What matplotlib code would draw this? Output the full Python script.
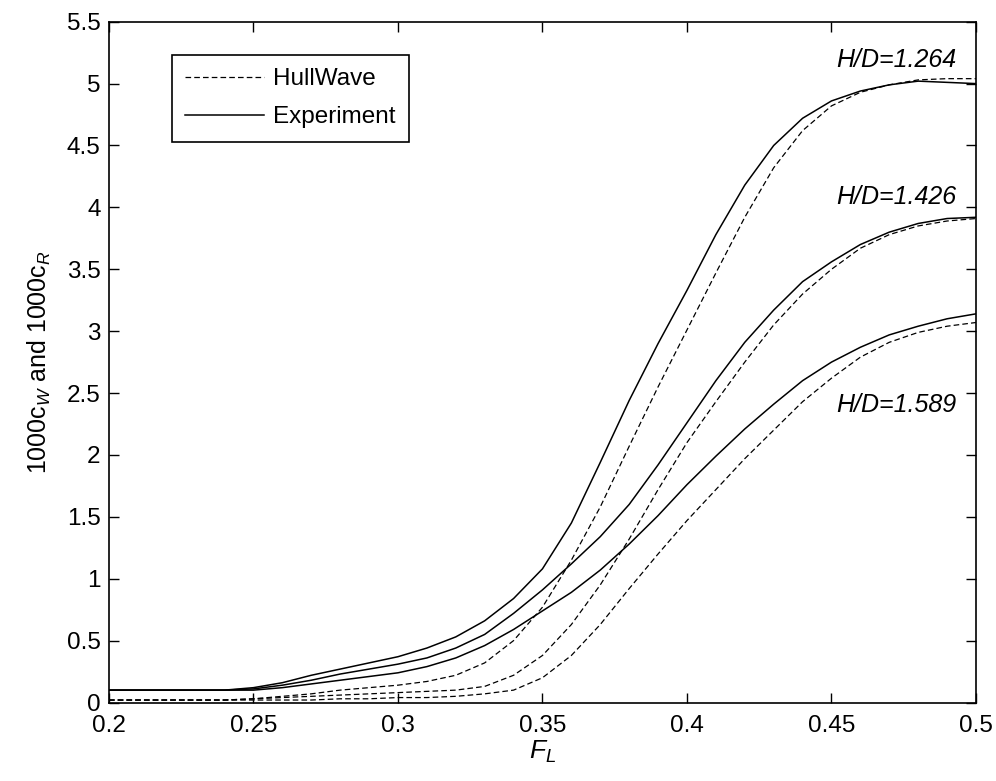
import numpy as np
import matplotlib
matplotlib.use("Agg")
import matplotlib.pyplot as plt
from matplotlib.ticker import FormatStrFormatter, MultipleLocator

plt.rcParams['font.family'] = ['Liberation Sans', 'DejaVu Sans']
plt.rcParams['mathtext.fontset'] = 'custom'
plt.rcParams['mathtext.rm'] = 'Liberation Sans'
plt.rcParams['mathtext.it'] = 'Liberation Sans:italic'

# Froude number grid
F_L = np.round(np.arange(0.20, 0.5001, 0.01), 2)

# Experiment (solid lines)
exp_1264 = [0.10, 0.10, 0.10, 0.10, 0.10, 0.12, 0.16, 0.22, 0.27, 0.32,
            0.37, 0.44, 0.53, 0.66, 0.84, 1.08, 1.45, 1.94, 2.44, 2.90,
            3.33, 3.78, 4.18, 4.50, 4.72, 4.86, 4.94, 4.99, 5.02, 5.01, 5.00]
exp_1426 = [0.10, 0.10, 0.10, 0.10, 0.10, 0.11, 0.14, 0.18, 0.23, 0.27,
            0.31, 0.36, 0.44, 0.55, 0.72, 0.91, 1.12, 1.34, 1.60, 1.92,
            2.26, 2.60, 2.91, 3.17, 3.40, 3.56, 3.70, 3.80, 3.87, 3.91, 3.92]
exp_1589 = [0.10, 0.10, 0.10, 0.10, 0.10, 0.10, 0.12, 0.15, 0.18, 0.21,
            0.24, 0.29, 0.36, 0.46, 0.59, 0.74, 0.89, 1.07, 1.28, 1.51,
            1.76, 1.99, 2.21, 2.41, 2.60, 2.75, 2.87, 2.97, 3.04, 3.10, 3.14]

# HullWave (dashed lines)
hw_1264 = [0.02, 0.02, 0.02, 0.02, 0.02, 0.03, 0.05, 0.07, 0.10, 0.12,
           0.14, 0.17, 0.22, 0.32, 0.50, 0.77, 1.15, 1.58, 2.07, 2.55,
           3.01, 3.47, 3.92, 4.32, 4.62, 4.82, 4.93, 4.99, 5.03, 5.04, 5.04]
hw_1426 = [0.02, 0.02, 0.02, 0.02, 0.02, 0.03, 0.04, 0.05, 0.06, 0.07,
           0.08, 0.09, 0.10, 0.13, 0.22, 0.38, 0.63, 0.95, 1.32, 1.72,
           2.10, 2.43, 2.75, 3.05, 3.30, 3.50, 3.67, 3.78, 3.85, 3.89, 3.91]
hw_1589 = [0.02, 0.02, 0.02, 0.02, 0.02, 0.02, 0.02, 0.02, 0.03, 0.03,
           0.04, 0.04, 0.05, 0.07, 0.10, 0.20, 0.38, 0.63, 0.92, 1.20,
           1.47, 1.72, 1.97, 2.20, 2.43, 2.62, 2.79, 2.91, 2.99, 3.04, 3.07]

labels = ['H/D=1.264', 'H/D=1.426', 'H/D=1.589']
label_y = [5.19, 4.08, 2.40]

fig = plt.figure(figsize=(9.96, 7.81), dpi=100)
ax = fig.add_axes([0.1094, 0.1005, 0.8705, 0.8717])

dash = (4.5, 2.5)
ax.plot(F_L, hw_1264, 'k--', lw=0.9, dashes=dash, label='HullWave')
ax.plot(F_L, exp_1264, 'k-', lw=1.1, label='Experiment')
ax.plot(F_L, hw_1426, 'k--', lw=0.9, dashes=dash)
ax.plot(F_L, exp_1426, 'k-', lw=1.1)
ax.plot(F_L, hw_1589, 'k--', lw=0.9, dashes=dash)
ax.plot(F_L, exp_1589, 'k-', lw=1.1)

for txt, yy in zip(labels, label_y):
    ax.text(0.4931, yy, txt, ha='right', va='center', fontsize=18, style='italic')

ax.set_xlim(0.2, 0.5)
ax.set_ylim(0, 5.5)
ax.xaxis.set_major_locator(MultipleLocator(0.05))
ax.yaxis.set_major_locator(MultipleLocator(0.5))
ax.xaxis.set_major_formatter(FormatStrFormatter('%g'))
ax.yaxis.set_major_formatter(FormatStrFormatter('%g'))
ax.tick_params(direction='in', length=7, width=1, top=True, right=True,
               labelsize=17.5)
ax.tick_params(axis='y', pad=6)
ax.tick_params(axis='x', pad=9)
for s in ax.spines.values():
    s.set_linewidth(1.2)

ax.set_xlabel(r'$F_L$', fontsize=19, labelpad=1)
ax.set_ylabel(r'1000c$_W$ and 1000c$_R$', fontsize=18, labelpad=10)

leg = ax.legend(loc='upper left', bbox_to_anchor=(0.0727, 0.951), fontsize=17.5,
                handlelength=3.25, handletextpad=0.37, borderpad=0.55,
                labelspacing=0.65, fancybox=False, framealpha=1,
                edgecolor='black', borderaxespad=0)
leg.get_frame().set_linewidth(1.2)

fig.savefig('out.png', dpi=100)
